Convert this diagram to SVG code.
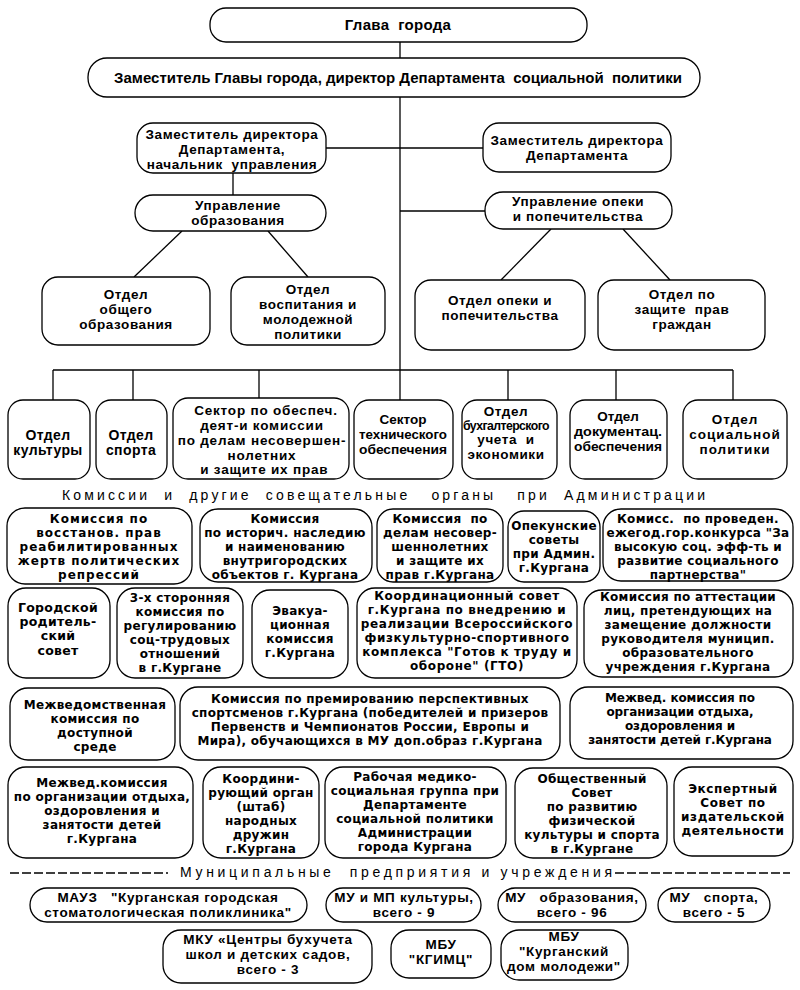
<svg xmlns="http://www.w3.org/2000/svg" width="800" height="990" viewBox="0 0 800 990">
<style>
rect{fill:#fff;stroke:#000;stroke-width:1.3}
.ln{stroke:#000;stroke-width:1.3;fill:none}
.dash{stroke:#000;stroke-width:1.5;stroke-dasharray:9 3}
text{fill:#000;text-anchor:middle}
.a{font-family:"Liberation Sans",Arial,sans-serif;font-weight:bold;font-size:13.5px;letter-spacing:0.6px}
.m{font-family:"Liberation Sans",Arial,sans-serif;font-weight:bold;font-size:13.5px;letter-spacing:0.7px}
.c{font-family:"DejaVu Sans",Verdana,sans-serif;font-weight:bold;font-size:12px;letter-spacing:0.3px}
.t{font-family:"Liberation Sans",Arial,sans-serif;font-size:14px;text-anchor:start}
</style>
<rect x="0" y="0" width="800" height="990" style="fill:#fff;stroke:none"/>
<g id="connectors">
<line class="ln" x1="400" y1="42" x2="400" y2="58"/>
<line class="ln" x1="400" y1="97" x2="400" y2="370"/>
<line class="ln" x1="326" y1="148" x2="483" y2="148"/>
<line class="ln" x1="233" y1="173" x2="233" y2="195"/>
<line class="ln" x1="400" y1="211" x2="485" y2="211"/>
<line class="ln" x1="182" y1="231" x2="134" y2="277"/>
<line class="ln" x1="268" y1="231" x2="308" y2="277"/>
<line class="ln" x1="551" y1="229" x2="501" y2="280"/>
<line class="ln" x1="623" y1="229" x2="670" y2="280"/>
<line class="ln" x1="53" y1="370" x2="733" y2="370"/>
<line class="ln" x1="53" y1="370" x2="53" y2="400"/>
<line class="ln" x1="133" y1="370" x2="133" y2="400"/>
<line class="ln" x1="259" y1="370" x2="259" y2="398"/>
<line class="ln" x1="400" y1="370" x2="400" y2="400"/>
<line class="ln" x1="508" y1="370" x2="508" y2="400"/>
<line class="ln" x1="616" y1="370" x2="616" y2="400"/>
<line class="ln" x1="733" y1="370" x2="733" y2="400"/>
</g>
<g id="n-glava"><rect x="210" y="8" width="377" height="34" rx="16"/><text class="a" x="398" y="30" style="font-size:15px;letter-spacing:0.3px" xml:space="preserve">Глава  города</text></g>
<g id="n-zam-glavy"><rect x="88" y="58" width="612" height="39" rx="19"/><text class="a" x="398" y="83" style="font-size:15px;letter-spacing:0" xml:space="preserve">Заместитель Главы города, директор Департамента  социальной  политики</text></g>
<g id="n-zam-dir-1"><rect x="137" y="123" width="189" height="50" rx="16"/><text class="a" xml:space="preserve"><tspan x="232" y="139">Заместитель директора</tspan><tspan x="232" y="154">Департамента,</tspan><tspan x="232" y="169">начальник  управления</tspan></text></g>
<g id="n-zam-dir-2"><rect x="483" y="123" width="188" height="49" rx="16"/><text class="a"><tspan x="577" y="145">Заместитель директора</tspan><tspan x="577" y="160">Департамента</tspan></text></g>
<g id="n-upr-obr"><rect x="135" y="195" width="191" height="36" rx="18"/><text class="a"><tspan x="238" y="210">Управление</tspan><tspan x="238" y="225">образования</tspan></text></g>
<g id="n-upr-opeki"><rect x="485" y="192" width="187" height="37" rx="18"/><text class="a"><tspan x="578" y="206">Управление опеки</tspan><tspan x="578" y="221">и попечительства</tspan></text></g>
<g id="n-otd-obsh"><rect x="42" y="277" width="168" height="68" rx="16"/><text class="a"><tspan x="126" y="299">Отдел</tspan><tspan x="126" y="314">общего</tspan><tspan x="126" y="329">образования</tspan></text></g>
<g id="n-otd-vosp"><rect x="231" y="277" width="154" height="68" rx="16"/><text class="a"><tspan x="308" y="294">Отдел</tspan><tspan x="308" y="309">воспитания и</tspan><tspan x="308" y="324">молодежной</tspan><tspan x="308" y="339">политики</tspan></text></g>
<g id="n-otd-opeki"><rect x="415" y="280" width="170" height="70" rx="16"/><text class="a"><tspan x="500" y="305">Отдел опеки и</tspan><tspan x="500" y="320">попечительства</tspan></text></g>
<g id="n-otd-zash"><rect x="598" y="280" width="167" height="70" rx="16"/><text class="a" xml:space="preserve"><tspan x="682" y="299">Отдел по</tspan><tspan x="682" y="314">защите  прав</tspan><tspan x="682" y="329">граждан</tspan></text></g>
<g id="n-kult"><rect x="8" y="400" width="82" height="79" rx="15"/><text class="a" style="font-size:14px;letter-spacing:0.4px"><tspan x="48" y="440">Отдел</tspan><tspan x="48" y="455">культуры</tspan></text></g>
<g id="n-sport"><rect x="96" y="400" width="71" height="79" rx="15"/><text class="a" style="font-size:14px;letter-spacing:0.4px"><tspan x="131" y="440">Отдел</tspan><tspan x="131" y="455">спорта</tspan></text></g>
<g id="n-sektor-kdn"><rect x="173" y="398" width="176" height="81" rx="15"/><text class="a" style="letter-spacing:0.8px" xml:space="preserve"><tspan x="266" y="415">Сектор по обеспеч.</tspan><tspan x="262" y="430">деят-и комиссии</tspan><tspan x="262" y="445">по делам несовершен-</tspan><tspan x="262" y="460">нолетних</tspan><tspan x="262" y="474"> и защите их прав</tspan></text></g>
<g id="n-sektor-tech"><rect x="354" y="400" width="99" height="79" rx="15"/><text class="a" style="letter-spacing:0"><tspan x="403" y="424">Сектор</tspan><tspan x="403" y="439" textLength="88" lengthAdjust="spacingAndGlyphs">технического</tspan><tspan x="403" y="454" textLength="88" lengthAdjust="spacingAndGlyphs">обеспечения</tspan></text></g>
<g id="n-buh"><rect x="462" y="400" width="95" height="79" rx="15"/><text class="a" xml:space="preserve"><tspan x="506" y="416">Отдел</tspan><tspan x="506" y="430" style="font-size:12.5px;letter-spacing:-0.6px" textLength="86" lengthAdjust="spacingAndGlyphs">бухгалтерского</tspan><tspan x="506" y="444">учета  и</tspan><tspan x="506" y="459">экономики</tspan></text></g>
<g id="n-dok"><rect x="570" y="400" width="97" height="79" rx="15"/><text class="a" style="letter-spacing:0"><tspan x="618" y="421">Отдел</tspan><tspan x="618" y="436" textLength="88" lengthAdjust="spacingAndGlyphs">документац.</tspan><tspan x="618" y="451" textLength="88" lengthAdjust="spacingAndGlyphs">обеспечения</tspan></text></g>
<g id="n-soc"><rect x="683" y="400" width="104" height="79" rx="15"/><text class="a" style="letter-spacing:1px"><tspan x="735" y="424">Отдел</tspan><tspan x="735" y="439">социальной</tspan><tspan x="735" y="454">политики</tspan></text></g>
<text id="title-komissii" class="t" x="62" y="500" textLength="643" lengthAdjust="spacing" xml:space="preserve">Комиссии  и  другие  совещательные   органы   при  Администрации</text>
<g id="k-reabil"><rect x="7" y="508" width="185" height="76" rx="18"/><text class="c" style="letter-spacing:1px"><tspan x="99" y="523">Комиссия по</tspan><tspan x="99" y="537">восстанов. прав</tspan><tspan x="99" y="551">реабилитированных</tspan><tspan x="99" y="565">жертв политических</tspan><tspan x="99" y="579">репрессий</tspan></text></g>
<g id="k-nasled"><rect x="200" y="509" width="172" height="73" rx="18"/><text class="c"><tspan x="285" y="523">Комиссия</tspan><tspan x="285" y="537">по историч. наследию</tspan><tspan x="285" y="551">и наименованию</tspan><tspan x="285" y="565">внутригородских</tspan><tspan x="285" y="579">объектов г. Кургана</tspan></text></g>
<g id="k-kdn"><rect x="377" y="509" width="126" height="73" rx="16"/><text class="c" xml:space="preserve"><tspan x="440" y="523">Комиссия  по</tspan><tspan x="440" y="537">делам несовер-</tspan><tspan x="440" y="551">шеннолетних</tspan><tspan x="440" y="565">и защите их</tspan><tspan x="440" y="579">прав г.Кургана</tspan></text></g>
<g id="k-opek"><rect x="508" y="511" width="92" height="71" rx="16"/><text class="c"><tspan x="554" y="530">Опекунские</tspan><tspan x="554" y="544">советы</tspan><tspan x="554" y="558">при Админ.</tspan><tspan x="554" y="572">г.Кургана</tspan></text></g>
<g id="k-konkurs"><rect x="603" y="509" width="190" height="72" rx="18"/><text class="c" xml:space="preserve"><tspan x="698" y="523">Комисс.  по проведен.</tspan><tspan x="698" y="537">ежегод.гор.конкурса "За</tspan><tspan x="698" y="551">высокую соц. эфф-ть и</tspan><tspan x="698" y="565">развитие социального</tspan><tspan x="698" y="579">партнерства"</tspan></text></g>
<g id="k-rodit"><rect x="8" y="588" width="102" height="90" rx="18"/><text class="c" style="font-size:12.5px"><tspan x="58" y="612">Городской</tspan><tspan x="58" y="626">родитель-</tspan><tspan x="58" y="640">ский</tspan><tspan x="58" y="655">совет</tspan></text></g>
<g id="k-3x"><rect x="117" y="588" width="126" height="90" rx="18"/><text class="c"><tspan x="180" y="602">3-х сторонняя</tspan><tspan x="180" y="616">комиссия по</tspan><tspan x="180" y="630">регулированию</tspan><tspan x="180" y="644">соц-трудовых</tspan><tspan x="180" y="658">отношений</tspan><tspan x="180" y="672">в г.Кургане</tspan></text></g>
<g id="k-evak"><rect x="252" y="590" width="96" height="88" rx="18"/><text class="c"><tspan x="300" y="615">Эвакуа-</tspan><tspan x="300" y="629">ционная</tspan><tspan x="300" y="643">комиссия</tspan><tspan x="300" y="657">г.Кургана</tspan></text></g>
<g id="k-gto"><rect x="357" y="588" width="220" height="90" rx="18"/><text class="c" style="letter-spacing:0.6px"><tspan x="467" y="600">Координационный совет</tspan><tspan x="467" y="614">г.Кургана по внедрению и</tspan><tspan x="467" y="628">реализации Всероссийского</tspan><tspan x="467" y="642">физкультурно-спортивного</tspan><tspan x="467" y="656">комплекса "Готов к труду и</tspan><tspan x="467" y="670">обороне" (ГТО)</tspan></text></g>
<g id="k-attest"><rect x="584" y="590" width="209" height="87" rx="18"/><text class="c"><tspan x="688" y="601">Комиссия по аттестации</tspan><tspan x="688" y="615">лиц, претендующих на</tspan><tspan x="688" y="629">замещение должности</tspan><tspan x="688" y="643">руководителя муницип.</tspan><tspan x="688" y="657">образовательного</tspan><tspan x="688" y="671">учреждения г.Кургана</tspan></text></g>
<g id="k-dostup"><rect x="10" y="688" width="165" height="72" rx="18"/><text class="c"><tspan x="95" y="709">Межведомственная</tspan><tspan x="95" y="723">комиссия по</tspan><tspan x="95" y="737">доступной</tspan><tspan x="95" y="751">среде</tspan></text></g>
<g id="k-prem"><rect x="180" y="687" width="380" height="73" rx="18"/><text class="c"><tspan x="370" y="703">Комиссия по премированию перспективных</tspan><tspan x="370" y="717">спортсменов г.Кургана (победителей и призеров</tspan><tspan x="370" y="731">Первенств и Чемпионатов России, Европы и</tspan><tspan x="370" y="745">Мира), обучающихся в МУ доп.образ г.Кургана</tspan></text></g>
<g id="k-otdyh-1"><rect x="570" y="687" width="223" height="72" rx="18"/><text class="c" style="letter-spacing:-0.1px"><tspan x="680" y="702">Межвед. комиссия по</tspan><tspan x="680" y="716">организации отдыха,</tspan><tspan x="680" y="730">оздоровления и</tspan><tspan x="680" y="744">занятости детей г.Кургана</tspan></text></g>
<g id="k-otdyh-2"><rect x="8" y="767" width="185" height="91" rx="18"/><text class="c"><tspan x="102" y="787">Межвед.комиссия</tspan><tspan x="102" y="801">по организации отдыха,</tspan><tspan x="102" y="815">оздоровления и</tspan><tspan x="102" y="829">занятости детей</tspan><tspan x="102" y="843">г.Кургана</tspan></text></g>
<g id="k-druzh"><rect x="203" y="767" width="116" height="91" rx="18"/><text class="c"><tspan x="261" y="783">Координи-</tspan><tspan x="261" y="797">рующий орган</tspan><tspan x="261" y="811">(штаб)</tspan><tspan x="261" y="825">народных</tspan><tspan x="261" y="839">дружин</tspan><tspan x="261" y="853">г.Кургана</tspan></text></g>
<g id="k-medsoc"><rect x="325" y="767" width="181" height="91" rx="18"/><text class="c"><tspan x="415" y="781">Рабочая медико-</tspan><tspan x="415" y="795">социальная группа при</tspan><tspan x="415" y="809">Департаменте</tspan><tspan x="415" y="823">социальной политики</tspan><tspan x="415" y="837">Администрации</tspan><tspan x="415" y="851">города Кургана</tspan></text></g>
<g id="k-obsh-sovet"><rect x="515" y="768" width="152" height="90" rx="18"/><text class="c"><tspan x="592" y="783">Общественный</tspan><tspan x="592" y="797">Совет</tspan><tspan x="592" y="811">по развитию</tspan><tspan x="592" y="825">физической</tspan><tspan x="592" y="839">культуры и спорта</tspan><tspan x="592" y="853">в г.Кургане</tspan></text></g>
<g id="k-ekspert"><rect x="674" y="767" width="119" height="89" rx="18"/><text class="c" style="letter-spacing:0.6px"><tspan x="733" y="793">Экспертный</tspan><tspan x="733" y="807">Совет по</tspan><tspan x="733" y="821">издательской</tspan><tspan x="733" y="835">деятельности</tspan></text></g>
<g id="title-mun">
<line class="dash" x1="10" y1="873" x2="168" y2="873"/>
<text class="t" x="180" y="877" textLength="432" lengthAdjust="spacing" xml:space="preserve">Муниципальные  предприятия и учреждения</text>
<line class="dash" x1="615" y1="873" x2="790" y2="873"/>
</g>
<g id="m-mauz"><rect x="30" y="888" width="277" height="34" rx="17"/><text class="m" xml:space="preserve"><tspan x="168" y="902">МАУЗ   "Курганская городская</tspan><tspan x="168" y="917">стоматологическая поликлиника"</tspan></text></g>
<g id="m-kult"><rect x="326" y="888" width="155" height="34" rx="17"/><text class="m"><tspan x="404" y="902">МУ и МП культуры,</tspan><tspan x="404" y="917">всего - 9</tspan></text></g>
<g id="m-obr"><rect x="498" y="888" width="148" height="34" rx="17"/><text class="m" xml:space="preserve"><tspan x="572" y="902">МУ   образования,</tspan><tspan x="572" y="917">всего - 96</tspan></text></g>
<g id="m-sport"><rect x="658" y="888" width="112" height="34" rx="17"/><text class="m" xml:space="preserve"><tspan x="714" y="902">МУ   спорта,</tspan><tspan x="714" y="917">всего - 5</tspan></text></g>
<g id="m-mku"><rect x="163" y="930" width="209" height="53" rx="18"/><text class="m"><tspan x="268" y="944">МКУ «Центры бухучета</tspan><tspan x="268" y="959">школ и детских садов,</tspan><tspan x="268" y="974">всего - 3</tspan></text></g>
<g id="m-kgimc"><rect x="391" y="930" width="100" height="48" rx="18"/><text class="m"><tspan x="441" y="949">МБУ</tspan><tspan x="441" y="964">"КГИМЦ"</tspan></text></g>
<g id="m-dom"><rect x="501" y="930" width="127" height="50" rx="18"/><text class="m"><tspan x="564" y="941">МБУ</tspan><tspan x="564" y="956">"Курганский</tspan><tspan x="564" y="971">дом молодежи"</tspan></text></g>
</svg>
